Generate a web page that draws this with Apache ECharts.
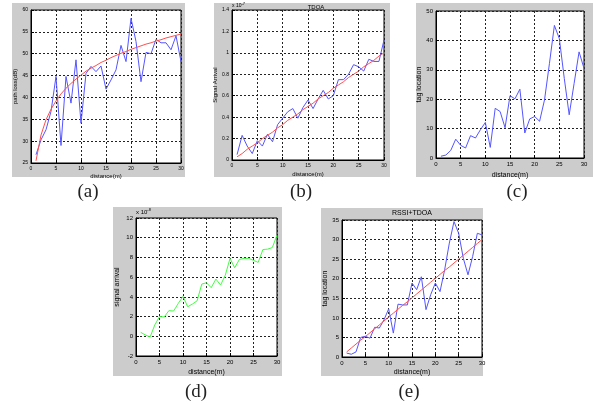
<!DOCTYPE html>
<html>
<head>
<meta charset="utf-8">
<script src="https://cdn.jsdelivr.net/npm/echarts@6/dist/echarts.min.js"></script>
<style>
  html, body { margin: 0; padding: 0; background: #fff; }
  #main { width: 593px; height: 405px; }
</style>
</head>
<body>
<div id="main"></div>
<script>
// distance (m) samples shared by every panel
const distance = [1,2,3,4,5,6,7,8,9,10,11,12,13,14,15,16,17,18,19,20,21,22,23,24,25,26,27,28,29,30];

// (a) path loss
const pathLossMeasured = [26.9,30.3,32.6,36.8,44.8,29.0,44.8,38.7,48.6,34.1,45.5,47.1,45.9,47.2,41.9,44.0,46.3,51.9,48.2,58.1,52.8,43.6,50.3,50.0,53.3,52.5,52.5,50.9,54.1,48.2];
const pathLossModel = [25.5,31.4,34.9,37.3,39.2,40.8,42.1,43.2,44.2,45.1,46.0,46.7,47.3,48.0,48.5,49.1,49.6,50.1,50.5,51.0,51.4,51.8,52.2,52.5,52.9,53.2,53.6,53.9,54.2,54.5];

// (b) TDOA, x 10^-7
const tdoaMeasured = [0.05,0.23,0.13,0.06,0.18,0.13,0.24,0.17,0.33,0.39,0.45,0.48,0.39,0.49,0.56,0.48,0.57,0.65,0.57,0.60,0.75,0.75,0.80,0.89,0.87,0.83,0.94,0.92,0.92,1.12];
const tdoaIdeal = [0.03,0.06,0.10,0.13,0.16,0.20,0.23,0.26,0.30,0.33,0.37,0.40,0.43,0.47,0.50,0.53,0.57,0.60,0.63,0.67,0.70,0.73,0.77,0.80,0.83,0.87,0.90,0.93,0.97,1.00];

// (c) tag location
const tagLocationC = [0.6,1.0,2.6,6.4,4.3,3.4,7.6,6.8,9.6,12.1,3.6,16.9,15.8,10.3,21.2,20.1,23.4,8.5,13.3,14.1,12.5,19.8,32.2,45.1,40.6,27.1,14.7,25.4,36.1,30.5];

// (d) signal arrival, x 10^-8
const signalArrival = [0.4,0.13,-0.07,1.15,2.0,1.96,2.6,2.56,3.34,4.05,3.0,3.27,3.6,5.3,5.43,4.93,5.8,5.2,6.2,7.9,6.95,7.8,7.9,7.9,7.7,7.5,8.8,8.84,9.0,10.26];

// (e) RSSI+TDOA
const fusedLocation = [1.0,0.7,1.3,5.0,5.3,4.8,7.6,7.4,9.5,12.3,6.1,13.5,13.3,13.3,18.9,17.2,20.5,12.1,15.9,18.9,16.7,22.3,29.1,34.6,31.6,25.2,21.0,25.7,31.6,31.2];
const fusedIdeal = [1.3,2.3,3.3,4.3,5.2,6.2,7.2,8.2,9.2,10.2,11.2,12.2,13.2,14.1,15.1,16.1,17.1,18.1,19.1,20.1,21.1,22.1,23.0,24.0,25.0,26.0,27.0,28.0,29.0,30.0];

const subLabels = ['(a)', '(b)', '(c)', '(d)', '(e)'];

const pairs = vals => distance.map((d, i) => [d, vals[i]]);

const chart = echarts.init(document.getElementById('main'));

// panel boxes: gray figure background + white axes area
const panels = [
  {bg: [12, 3, 173, 174],  grid: [31, 10, 150, 153],  label: [88, 192],  fs: 5, yGap: 9,  xGap: 5, ymin: 25, ymax: 60, yint: 5,  yname: 'path loss(dB)'},
  {bg: [214, 3, 176, 174], grid: [232, 10, 152, 150], label: [301, 192], fs: 5, yGap: 12, xGap: 6, ymin: 0, ymax: 1.4, yint: 0.2, yname: 'Signal Arrival'},
  {bg: [416, 3, 177, 174], grid: [436, 11, 148, 147], label: [517, 192], fs: 6, yGap: 13, xGap: 8, ymin: 0, ymax: 50, yint: 10, yname: 'tag location'},
  {bg: [113, 207, 169, 169], grid: [136, 218, 141, 138], label: [196, 392], fs: 6, yGap: 15, xGap: 7, ymin: -2, ymax: 12, yint: 2, yname: 'signal arrival'},
  {bg: [321, 208, 162, 168], grid: [342, 220, 140, 137], label: [409, 392], fs: 6, yGap: 12, xGap: 6, ymin: 0, ymax: 35, yint: 5, yname: 'tag location'}
];

const font = 'Liberation Sans, Arial, sans-serif';
const dotted = {color: '#222', width: 1, type: [2, 2]};

const grids = panels.map(p => ({
  left: p.grid[0], top: p.grid[1], width: p.grid[2], height: p.grid[3],
  show: true, backgroundColor: '#fff', borderColor: '#000', borderWidth: 1,
  containLabel: false
}));

const xAxes = panels.map((p, i) => ({
  gridIndex: i, type: 'value', min: 0, max: 30, interval: 5,
  name: 'distance(m)', nameLocation: 'middle', nameGap: p.fs + p.xGap,
  nameTextStyle: {fontSize: p.fs + 1, color: '#000', fontFamily: font},
  axisLine: {show: true, onZero: false, lineStyle: {color: '#000'}},
  axisTick: {show: true, inside: true, length: 3, lineStyle: {color: '#000'}},
  axisLabel: {fontSize: p.fs, color: '#000', fontFamily: font, margin: 3},
  splitLine: {show: true, lineStyle: dotted}
}));

const yAxes = panels.map((p, i) => ({
  gridIndex: i, type: 'value', min: p.ymin, max: p.ymax, interval: p.yint,
  name: p.yname, nameLocation: 'middle', nameGap: p.yGap, nameRotate: 90,
  nameTextStyle: {fontSize: p.fs + 1, color: '#000', fontFamily: font},
  axisLine: {show: true, onZero: false, lineStyle: {color: '#000'}},
  axisTick: {show: true, inside: true, length: 3, lineStyle: {color: '#000'}},
  axisLabel: {fontSize: p.fs, color: '#000', fontFamily: font, margin: 3},
  splitLine: {show: true, lineStyle: dotted}
}));

const line = (i, vals, color) => ({
  type: 'line', xAxisIndex: i, yAxisIndex: i, data: pairs(vals),
  showSymbol: false, symbol: 'none', silent: true, animation: false,
  lineStyle: {color: color, width: 1}
});

const blue = '#5555ff';
const red = '#ff5050';
const green = '#44ff44';

const graphics = [];
panels.forEach((p, i) => {
  graphics.push({type: 'rect', z: -10, silent: true,
    shape: {x: p.bg[0], y: p.bg[1], width: p.bg[2], height: p.bg[3]},
    style: {fill: '#cccccc'}});
  graphics.push({type: 'text', silent: true, x: p.label[0], y: p.label[1],
    style: {text: subLabels[i], fontSize: 19, fontFamily: 'Liberation Serif, serif',
      fill: '#222', textAlign: 'center', textVerticalAlign: 'middle'}});
});
// titles
graphics.push({type: 'text', x: 316, y: 7, style: {text: 'TDOA', fontSize: 6, fontFamily: font, fill: '#000', textAlign: 'center', textVerticalAlign: 'middle'}});
graphics.push({type: 'text', x: 412, y: 213, style: {text: 'RSSI+TDOA', fontSize: 7, fontFamily: font, fill: '#000', textAlign: 'center', textVerticalAlign: 'middle'}});
// exponent marks
graphics.push({type: 'text', x: 232, y: 6, style: {
  text: '{a|x 10}{s|-7}', textVerticalAlign: 'middle',
  rich: {a: {fontSize: 5, fontFamily: font, fill: '#000'}, s: {fontSize: 4, fontFamily: font, fill: '#000', padding: [0, 0, 4, 0]}}}});
graphics.push({type: 'text', x: 136, y: 212, style: {
  text: '{a|x 10}{s|-8}', textVerticalAlign: 'middle',
  rich: {a: {fontSize: 6, fontFamily: font, fill: '#000'}, s: {fontSize: 4, fontFamily: font, fill: '#000', padding: [0, 0, 5, 0]}}}});

chart.setOption({
  animation: false,
  backgroundColor: '#fff',
  grid: grids,
  xAxis: xAxes,
  yAxis: yAxes,
  graphic: graphics,
  series: [
    line(0, pathLossMeasured, blue),
    line(0, pathLossModel, red),
    line(1, tdoaMeasured, blue),
    line(1, tdoaIdeal, red),
    line(2, tagLocationC, blue),
    line(3, signalArrival, green),
    line(4, fusedLocation, blue),
    line(4, fusedIdeal, red)
  ]
});
</script>
</body>
</html>
